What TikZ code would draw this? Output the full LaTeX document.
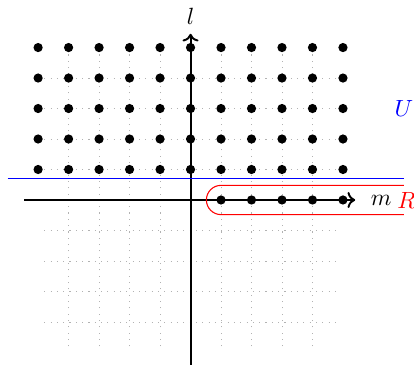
\documentclass[tikz,border=0pt]{standalone}
\usetikzlibrary{arrows.meta}
\tikzset{
  lattice-pt/.style={circle,fill=black,inner sep=0pt,minimum size=4.3pt},
  axis/.style={->,line width=0.9pt},
  gridline/.style={gray!60,line width=0.4pt,dash pattern=on 0.5pt off 2.45pt},
  bound-u/.style={blue,line width=0.5pt},
  bound-r/.style={red,line width=0.5pt},
  lbl/.style={inner sep=0pt,font=\fontsize{11}{13}\selectfont},
}

\begin{document}
\begin{tikzpicture}[x=0.5cm,y=0.5cm]

  \useasboundingbox (-6.25,-5.41) rectangle (7.33,6.56);

  % dotted lattice
  \draw[gridline,step=0.5cm] (-4.8,-4.8) grid (4.8,4.8);

  % axes
  \coordinate (m-start) at (-5.45,0);
  \coordinate (m-end)   at (5.4,0);
  \coordinate (l-start) at (0,-5.5);
  \coordinate (l-end)   at (0,5.45);
  \draw[axis] (m-start) -- (m-end);
  \draw[axis] (l-start) -- (l-end);
  \node[lbl] (m-label) at (6.25,0) {$m$};
  \node[lbl] (l-label) at (0,6.02) {$l$};

  % region U: half plane above the blue line
  \coordinate (u-left)  at (-6,0.7);
  \coordinate (u-right) at (7,0.7);
  \draw[bound-u] (u-left) -- (u-right);
  \node[lbl,text=blue] (u-label) at (7,3) {$U$};

  % region R: strip round the positive m axis
  \draw[bound-r] (7,0.48) -- (1,0.48) arc[start angle=90,end angle=270,radius=0.48] -- (7,-0.48);
  \node[lbl,text=red] (r-label) at (7.08,0) {$R$};

  % lattice points
  \foreach \x in {-5,...,5}
    \foreach \y in {1,...,5}
      \node[lattice-pt] (pt-\x-\y) at (\x,\y) {};
  \foreach \x in {1,...,5}
    \node[lattice-pt] (pt-\x-0) at (\x,0) {};

\end{tikzpicture}
\end{document}
